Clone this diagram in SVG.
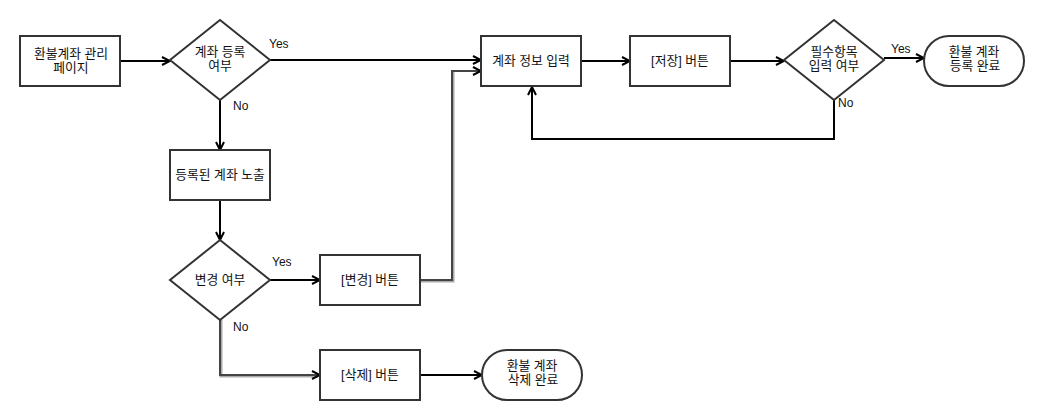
<svg xmlns="http://www.w3.org/2000/svg" width="1044" height="420" viewBox="0 0 1044 420">
<style>
.box{fill:#fff;stroke:#333;stroke-width:2}
.t{font-family:"Liberation Sans","Noto Sans CJK KR",sans-serif;font-size:12.8px;fill:#111;text-anchor:middle}
.lbl{font-family:"Liberation Sans",Arial,sans-serif;font-size:12px;fill:#111}
.c{fill:none;stroke:#000;stroke-width:2;marker-end:url(#ar)}
.g{fill:none;stroke:#444;stroke-width:2;marker-end:url(#ar)}
.gs{fill:none;stroke:#aaa;stroke-width:3}
</style>
<defs>
<marker id="ar" viewBox="0 0 10 10" refX="9" refY="5" markerWidth="10" markerHeight="10" markerUnits="userSpaceOnUse" orient="auto">
<path d="M1,1 L9,5 L1,9" fill="none" stroke="#000" stroke-width="2"/>
</marker>
</defs>
<rect width="1044" height="420" fill="#fff"/>
<g id="connectors">
<path class="c" d="M120,61 H170"/>
<path class="c" d="M270,60 H481"/>
<path class="c" d="M582,61 H630"/>
<path class="c" d="M730,61 H784"/>
<path class="c" d="M884,58 H924"/>
<path class="c" d="M834,100 V139 H532 V87"/>
<path class="c" d="M220,100 V150"/>
<path class="c" d="M220,200 V240"/>
<path class="c" d="M270,280 H320"/>
<path class="gs" d="M421,281 H453 V72"/>
<path class="g" d="M420,280 H452 V71 H481"/>
<path class="gs" d="M221,320 V376 H318"/>
<path class="g" d="M220,320 V375 H320"/>
<path class="c" d="M420,375 H482"/>
</g>
<g id="labels">
<text class="lbl" x="269" y="48">Yes</text>
<text class="lbl" x="233" y="110">No</text>
<text class="lbl" x="891" y="53">Yes</text>
<text class="lbl" x="838" y="107">No</text>
<text class="lbl" x="272" y="266">Yes</text>
<text class="lbl" x="233" y="331">No</text>
</g>
<g id="n1"><rect class="box" x="20" y="36" width="100" height="50"/><text class="t" x="71" y="58">환불계좌 관리</text><text class="t" x="71" y="72">페이지</text></g>
<g id="d1"><path class="box" d="M220,20 L270,60 L220,100 L170,60 Z"/><text class="t" x="220" y="56">계좌 등록</text><text class="t" x="220" y="70">여부</text></g>
<g id="n2"><rect class="box" x="481" y="36" width="100" height="50"/><text class="t" x="531" y="65">계좌 정보 입력</text></g>
<g id="n3"><rect class="box" x="630" y="36" width="100" height="50"/><text class="t" x="680" y="65">[저장] 버튼</text></g>
<g id="d2"><path class="box" d="M834,20 L884,60 L834,100 L784,60 Z"/><text class="t" x="834" y="56">필수항목</text><text class="t" x="834" y="70">입력 여부</text></g>
<g id="n4"><rect class="box" x="924" y="36" width="100" height="50" rx="25"/><text class="t" x="974" y="56">환불 계좌</text><text class="t" x="975" y="70">등록 완료</text></g>
<g id="n5"><rect class="box" x="170" y="150" width="100" height="50"/><text class="t" x="220" y="179">등록된 계좌 노출</text></g>
<g id="d3"><path class="box" d="M220,240 L270,280 L220,320 L170,280 Z"/><text class="t" x="220" y="284">변경 여부</text></g>
<g id="n6"><rect class="box" x="320" y="255" width="100" height="50"/><text class="t" x="370" y="284">[변경] 버튼</text></g>
<g id="n7"><rect class="box" x="320" y="350" width="100" height="50"/><text class="t" x="370" y="379">[삭제] 버튼</text></g>
<g id="n8"><rect class="box" x="482" y="350" width="100" height="50" rx="25"/><text class="t" x="532" y="370">환불 계좌</text><text class="t" x="533" y="384">삭제 완료</text></g>
</svg>
